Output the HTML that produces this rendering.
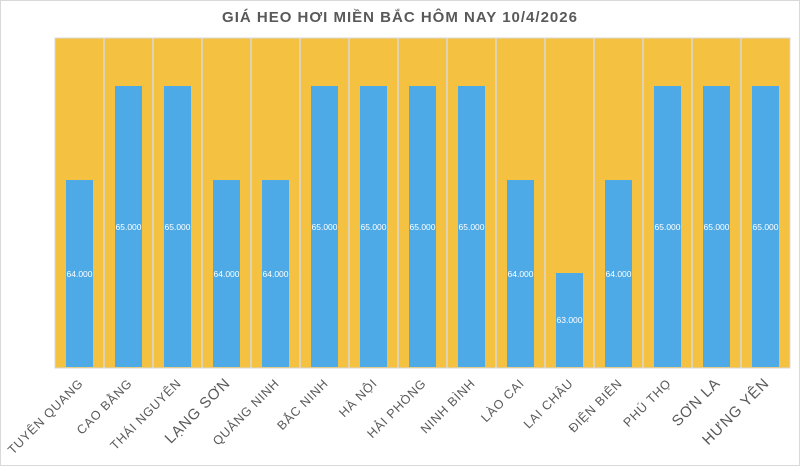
<!DOCTYPE html><html><head><meta charset="utf-8"><style>body{margin:0;background:#fff}</style></head><body>
<svg width="800" height="466" xmlns="http://www.w3.org/2000/svg" font-family="Liberation Sans, sans-serif">
<rect x="0.5" y="0.5" width="799" height="465" fill="#fff" stroke="#d9d9d9"/>
<text x="400" y="22" text-anchor="middle" font-size="15" font-weight="bold" fill="#595959" letter-spacing="1">GIÁ HEO HƠI MIỀN BẮC HÔM NAY 10/4/2026</text>
<rect x="55" y="38" width="735" height="330" fill="#f4c141" stroke="#d9d9d9"/>
<g stroke="#d9d9d9" stroke-width="1.5">
<line x1="104" y1="38" x2="104" y2="368"/><line x1="153" y1="38" x2="153" y2="368"/><line x1="202" y1="38" x2="202" y2="368"/><line x1="251" y1="38" x2="251" y2="368"/><line x1="300" y1="38" x2="300" y2="368"/><line x1="349" y1="38" x2="349" y2="368"/><line x1="398" y1="38" x2="398" y2="368"/><line x1="447" y1="38" x2="447" y2="368"/><line x1="496" y1="38" x2="496" y2="368"/><line x1="545" y1="38" x2="545" y2="368"/><line x1="594" y1="38" x2="594" y2="368"/><line x1="643" y1="38" x2="643" y2="368"/><line x1="692" y1="38" x2="692" y2="368"/><line x1="741" y1="38" x2="741" y2="368"/>
</g>
<g fill="#4eaae6">
<rect x="66" y="180" width="27" height="187"/>
<rect x="115" y="86" width="27" height="281"/>
<rect x="164" y="86" width="27" height="281"/>
<rect x="213" y="180" width="27" height="187"/>
<rect x="262" y="180" width="27" height="187"/>
<rect x="311" y="86" width="27" height="281"/>
<rect x="360" y="86" width="27" height="281"/>
<rect x="409" y="86" width="27" height="281"/>
<rect x="458" y="86" width="27" height="281"/>
<rect x="507" y="180" width="27" height="187"/>
<rect x="556" y="273" width="27" height="94"/>
<rect x="605" y="180" width="27" height="187"/>
<rect x="654" y="86" width="27" height="281"/>
<rect x="703" y="86" width="27" height="281"/>
<rect x="752" y="86" width="27" height="281"/>
</g>
<g fill="#fff" font-size="8.5" text-anchor="middle">
<text x="79.5" y="277">64.000</text>
<text x="128.5" y="230">65.000</text>
<text x="177.5" y="230">65.000</text>
<text x="226.5" y="277">64.000</text>
<text x="275.5" y="277">64.000</text>
<text x="324.5" y="230">65.000</text>
<text x="373.5" y="230">65.000</text>
<text x="422.5" y="230">65.000</text>
<text x="471.5" y="230">65.000</text>
<text x="520.5" y="277">64.000</text>
<text x="569.5" y="323">63.000</text>
<text x="618.5" y="277">64.000</text>
<text x="667.5" y="230">65.000</text>
<text x="716.5" y="230">65.000</text>
<text x="765.5" y="230">65.000</text>
</g>
<g fill="#595959" font-size="12.5" text-anchor="end" letter-spacing="0.8">
<text transform="translate(84,384) rotate(-45)">TUYÊN QUANG</text>
<text transform="translate(133,384) rotate(-45)">CAO BẰNG</text>
<text transform="translate(182,384) rotate(-45)">THÁI NGUYÊN</text>
<text transform="translate(231,384) rotate(-45)" font-size="15">LẠNG SƠN</text>
<text transform="translate(280,384) rotate(-45)">QUẢNG NINH</text>
<text transform="translate(329,384) rotate(-45)">BẮC NINH</text>
<text transform="translate(378,384) rotate(-45)">HÀ NỘI</text>
<text transform="translate(427,384) rotate(-45)">HẢI PHÒNG</text>
<text transform="translate(476,384) rotate(-45)">NINH BÌNH</text>
<text transform="translate(525,384) rotate(-45)">LÀO CAI</text>
<text transform="translate(574,384) rotate(-45)">LAI CHÂU</text>
<text transform="translate(623,384) rotate(-45)">ĐIỆN BIÊN</text>
<text transform="translate(672,384) rotate(-45)">PHÚ THỌ</text>
<text transform="translate(721,384) rotate(-45)" font-size="15">SƠN LA</text>
<text transform="translate(770,384) rotate(-45)" font-size="15">HƯNG YÊN</text>
</g>
</svg>
</body></html>
